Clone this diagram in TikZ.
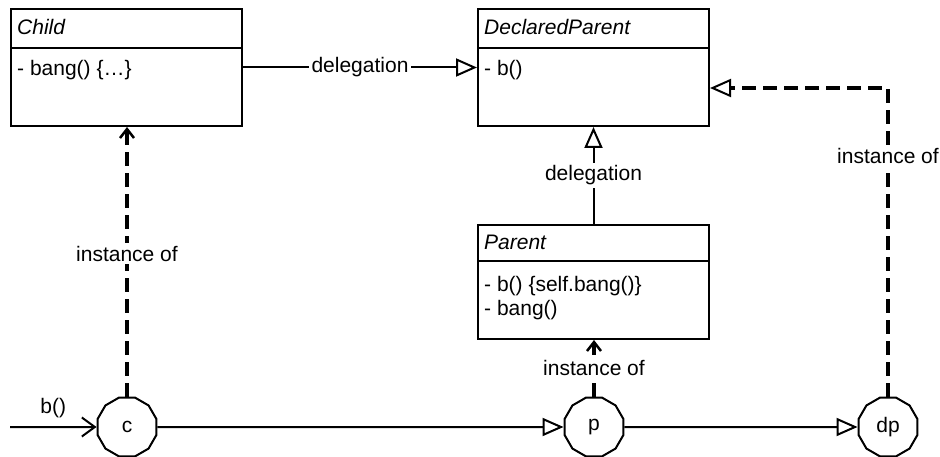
\documentclass[tikz,border=0pt]{standalone}
\usepackage{fontspec}
\setmainfont{Liberation Sans}
\usetikzlibrary{arrows.meta,shapes.geometric}

\begin{document}
\begin{tikzpicture}[x=1pt,y=-1pt,
  font=\fontsize{21}{25}\selectfont,
  box/.style={draw,line width=2pt,rectangle,anchor=north west,inner sep=0pt},
  txt/.style={anchor=base west,inner sep=0pt},
  obj/.style={draw,line width=2pt,fill=white,regular polygon,regular polygon sides=12,minimum size=61pt,inner sep=0pt},
  conn/.style={line width=2pt},
  inst/.style={line width=4pt,dash pattern=on 14pt off 7pt},
  hollow/.style={-{Triangle[open,fill=white,length=21pt,width=18pt,line width=2pt]}},
  barb/.style={-{Straight Barb[length=9pt,width=14pt,line width=2.5pt]}},
  inbarb/.style={-{Straight Barb[length=13pt,width=19pt,line width=2pt]}},
  lbl/.style={fill=white,inner sep=3pt}
]
\useasboundingbox (0,0) rectangle (940,457);

% classes
\node[box,minimum width=231pt,minimum height=117pt] (child) at (10,8) {};
\node[box,minimum width=231pt,minimum height=117pt] (dparent) at (477,8) {};
\node[box,minimum width=231pt,minimum height=114pt] (parent) at (477,224) {};

\draw[conn] ([yshift=-40pt]child.north west) -- ([yshift=-40pt]child.north east);
\draw[conn] ([yshift=-40pt]dparent.north west) -- ([yshift=-40pt]dparent.north east);
\draw[conn] ([yshift=-37pt]parent.north west) -- ([yshift=-37pt]parent.north east);

\node[txt] (childname) at (17,35) {\itshape Child};
\node[txt] (childops) at (17,76) {- bang() \{…\}};
\node[txt] (dpname) at (484,35) {\itshape DeclaredParent};
\node[txt] (dpops) at (484,76) {- b()};
\node[txt] (pname) at (484,250) {\itshape Parent};
\node[txt] (pop1) at (484,291) {- b() \{self.bang()\}};
\node[txt] (pop2) at (484,315) {- bang()};

% objects
\node[obj] (c) at (127,427) {c};
\node[obj] (p) at (594,427) {p};
\node[obj] (dp) at (888,427) {dp};
\coordinate (in) at (10,427);

% messages
\draw[conn,inbarb] (in) -- (c.west) node[midway,above=5pt] {b()};
\draw[conn,hollow] (c.east) -- (p.west);
\draw[conn,hollow] (p.east) -- (dp.west);

% delegation
\draw[conn,hollow] (child.east) -- (dparent.west) node[midway,lbl] {delegation};
\draw[conn,hollow] (parent.north) -- (dparent.south) node[midway,lbl] {delegation};

% instance of
\draw[inst,barb] (c.north) -- (c.north |- child.south) node[pos=0.53,lbl] {instance of};
\draw[inst,barb] (p.north) -- (p.north |- parent.south) node[pos=0.5,lbl] {instance of};
\draw[inst,hollow] (dp.north) |- ([yshift=-20.5pt]dparent.east) node[pos=0.39,lbl] {instance of};
\end{tikzpicture}
\end{document}
